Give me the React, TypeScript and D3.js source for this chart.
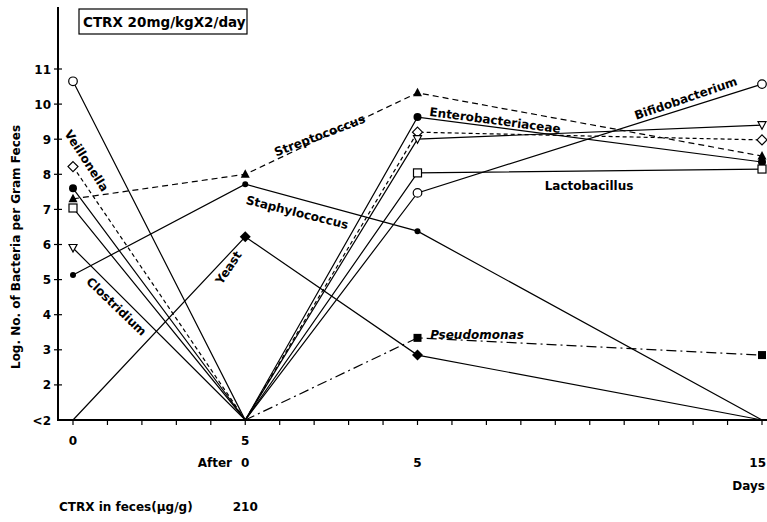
import React from 'react';
import * as d3 from 'd3';

// days relative to start of CTRX (pre-treatment point is 5 days before "After 0")
const days = [-5, 0, 5, 15];
const LOW = 1; // plotted position of "<2"

const bifidobacterium = [10.65, LOW, 7.47, 10.57];
const veillonella = [8.22, LOW, 9.2, 8.98];
const enterobacteriaceae = [7.6, LOW, 9.63, 8.35];
const streptococcus = [7.3, 8.0, 10.32, 8.52];
const lactobacillus = [7.04, LOW, 8.04, 8.15];
const clostridium = [5.9, LOW, 9.0, 9.4];
const staphylococcus = [5.13, 7.72, 6.38, LOW];
const yeast = [LOW, 6.22, 2.85, LOW];
const pseudomonas = [null, LOW, 3.34, 2.85];

const yTicks = [1, 2, 3, 4, 5, 6, 7, 8, 9, 10, 11];
const yTickLabels = ['<2', '2', '3', '4', '5', '6', '7', '8', '9', '10', '11'];
const dayTicks = d3.range(-5, 16);
const preLabels = [{ d: -5, t: '0' }, { d: 0, t: '5' }];
const afterLabels = [{ d: 0, t: '0' }, { d: 5, t: '5' }, { d: 15, t: '15' }];

type Marker = 'openCircle' | 'dot' | 'smallDot' | 'openSquare' | 'filledSquare' | 'triangle' | 'openTriDown' | 'openDiamond' | 'filledDiamond';

interface Series {
  name: string;
  values: (number | null)[];
  marker: Marker;
  dash?: string;
}

const series: Series[] = [
  { name: 'Bifidobacterium', values: bifidobacterium, marker: 'openCircle' },
  { name: 'Veillonella', values: veillonella, marker: 'openDiamond', dash: '4,3' },
  { name: 'Enterobacteriaceae', values: enterobacteriaceae, marker: 'dot' },
  { name: 'Streptococcus', values: streptococcus, marker: 'triangle', dash: '6,4' },
  { name: 'Lactobacillus', values: lactobacillus, marker: 'openSquare' },
  { name: 'Clostridium', values: clostridium, marker: 'openTriDown' },
  { name: 'Staphylococcus', values: staphylococcus, marker: 'smallDot' },
  { name: 'Yeast', values: yeast, marker: 'filledDiamond' },
  { name: 'Pseudomonas', values: pseudomonas, marker: 'filledSquare', dash: '10,4,2,4' },
];

// text labels placed along the curves
const labels = [
  { t: 'Veillonella', x: 86, y: 161, r: 57 },
  { t: 'Clostridium', x: 116, y: 307, r: 44 },
  { t: 'Yeast', x: 229, y: 268, r: -56 },
  { t: 'Streptococcus', x: 320, y: 136, r: -21 },
  { t: 'Staphylococcus', x: 297, y: 213, r: 14 },
  { t: 'Enterobacteriaceae', x: 495, y: 121, r: 7.5 },
  { t: 'Bifidobacterium', x: 686, y: 99, r: -19 },
  { t: 'Lactobacillus', x: 589, y: 186, r: 0 },
  { t: 'Pseudomonas', x: 477, y: 335, r: 0, italic: true },
];

const W = 767;
const H = 522;
const font = '"DejaVu Sans", sans-serif';

const x = d3.scaleLinear().domain([-5, 15]).range([73, 762]);
const y = d3.scaleLinear().domain([1, 11]).range([420, 69]);

const MarkerShape: React.FC<{ m: Marker; cx: number; cy: number }> = ({ m, cx, cy }) => {
  const s = { stroke: '#000', strokeWidth: 1.2 };
  switch (m) {
    case 'openCircle':
      return <circle cx={cx} cy={cy} r={4.3} fill="#fff" {...s} />;
    case 'dot':
      return <circle cx={cx} cy={cy} r={4} fill="#000" />;
    case 'smallDot':
      return <circle cx={cx} cy={cy} r={3} fill="#000" />;
    case 'openSquare':
      return <rect x={cx - 4} y={cy - 4} width={8} height={8} fill="#fff" {...s} />;
    case 'filledSquare':
      return <rect x={cx - 4} y={cy - 4} width={8} height={8} fill="#000" />;
    case 'triangle':
      return <path d={`M${cx},${cy - 5}L${cx + 4.5},${cy + 3.5}L${cx - 4.5},${cy + 3.5}Z`} fill="#000" />;
    case 'openTriDown':
      return <path d={`M${cx - 4},${cy - 3.5}L${cx + 4},${cy - 3.5}L${cx},${cy + 4}Z`} fill="#fff" {...s} />;
    case 'openDiamond':
      return <path d={`M${cx},${cy - 5}L${cx + 5},${cy}L${cx},${cy + 5}L${cx - 5},${cy}Z`} fill="#fff" {...s} />;
    case 'filledDiamond':
      return <path d={`M${cx},${cy - 5.5}L${cx + 5.5},${cy}L${cx},${cy + 5.5}L${cx - 5.5},${cy}Z`} fill="#000" />;
  }
  return null;
};

const App: React.FC = () => {
  const line = d3
    .line<[number, number | null]>()
    .defined(d => d[1] !== null)
    .x(d => x(d[0]))
    .y(d => y(d[1] as number));

  return (
    <svg width={W} height={H} style={{ position: 'absolute', left: 0, top: 0, background: '#fff' }} fontFamily={font}>
      <rect width={W} height={H} fill="#fff" />

      {/* title box */}
      <rect x={79} y={9} width={168} height={25} fill="#fff" stroke="#000" strokeWidth={1.2} />
      <text x={83} y={26.5} fontSize={13.5} fontWeight="bold">CTRX 20mg/kgX2/day</text>

      {/* y axis */}
      <line x1={58} x2={58} y1={7} y2={421} stroke="#000" strokeWidth={2} />
      {yTicks.map((t, i) => (
        <g key={t}>
          {t > 1 && <line x1={54} x2={62} y1={y(t)} y2={y(t)} stroke="#000" strokeWidth={1.2} />}
          <text x={51} y={y(t) + 4.5} fontSize={12} fontWeight="bold" textAnchor="end">{yTickLabels[i]}</text>
        </g>
      ))}
      <text
        transform={`translate(20,247) rotate(-90)`}
        fontSize={12}
        fontWeight="bold"
        textAnchor="middle"
      >
        Log. No. of Bacteria per Gram Feces
      </text>

      {/* x axis */}
      <line x1={57} x2={W} y1={y(1)} y2={y(1)} stroke="#000" strokeWidth={2} />
      {dayTicks.map(d => (
        <line key={d} x1={x(d)} x2={x(d)} y1={y(1)} y2={y(1) + 5} stroke="#000" strokeWidth={1.2} />
      ))}
      {preLabels.map(l => (
        <text key={'p' + l.d} x={x(l.d)} y={445} fontSize={12} fontWeight="bold" textAnchor="middle">{l.t}</text>
      ))}
      <text x={232} y={467} fontSize={12} fontWeight="bold" textAnchor="end">After</text>
      {afterLabels.map(l => (
        <text
          key={'a' + l.d}
          x={l.d === 15 ? 766 : x(l.d)}
          y={467}
          fontSize={12}
          fontWeight="bold"
          textAnchor={l.d === 15 ? 'end' : 'middle'}
        >
          {l.t}
        </text>
      ))}
      <text x={765} y={490} fontSize={12} fontWeight="bold" textAnchor="end">Days</text>
      <text x={59} y={511} fontSize={12} fontWeight="bold">CTRX in feces(μg/g)</text>
      <text x={x(0)} y={511} fontSize={12} fontWeight="bold" textAnchor="middle">210</text>

      {/* series lines */}
      {series.map(s => (
        <path
          key={s.name}
          d={line(days.map((d, i) => [d, s.values[i]] as [number, number | null])) || ''}
          fill="none"
          stroke="#000"
          strokeWidth={1.2}
          strokeDasharray={s.dash}
        />
      ))}

      {/* markers */}
      {series.map(s =>
        s.values.map((v, i) =>
          v !== null && v > LOW ? (
            <MarkerShape key={s.name + i} m={s.marker} cx={x(days[i])} cy={y(v)} />
          ) : null
        )
      )}

      {/* series labels */}
      {labels.map(l => (
        <text
          key={l.t}
          transform={`translate(${l.x},${l.y}) rotate(${l.r})`}
          fontSize={12}
          fontWeight="bold"
          fontStyle={l.italic ? 'italic' : undefined}
          textAnchor="middle"
          dominantBaseline="middle"
        >
          {l.t}
        </text>
      ))}
    </svg>
  );
};

export default App;
